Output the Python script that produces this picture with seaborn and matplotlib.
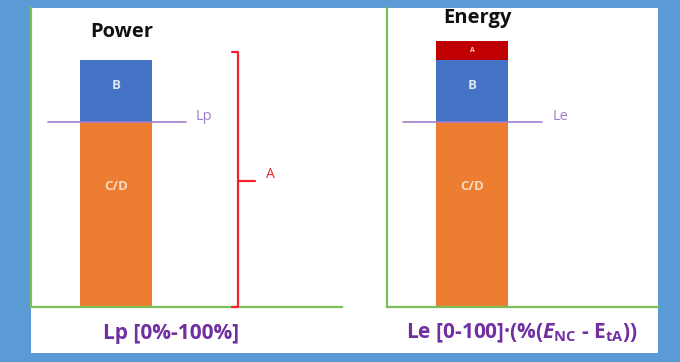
import matplotlib
matplotlib.use("Agg")
import matplotlib.pyplot as plt
from matplotlib.patches import Rectangle
import seaborn as sns
import pandas as pd

sns.set_style("white")
plt.rcParams["font.family"] = ["Open Sans", "DejaVu Sans"]
plt.rcParams["mathtext.fontset"] = "custom"
plt.rcParams["mathtext.rm"] = "Open Sans:bold"
plt.rcParams["mathtext.it"] = "Open Sans:bold:italic"
plt.rcParams["mathtext.bf"] = "Open Sans:bold"

# Stacked components (percent of the power limit)
segments = ["C/D", "B", "A"]
power_values = [75, 25, 0]
energy_values = [75, 25, 7.5]
limit_level = 75          # Lp / Le threshold
bracket_span = [0, 103]   # range covered by the "A" brace on the power chart

titles = ["Power", "Energy"]
limit_labels = ["Lp", "Le"]
bottom_labels = ["Lp [0%-100%]",
                 r"Le [0-100]·(%($\mathit{E}_{\mathbf{NC}}$ - E$_{\mathbf{tA}}$))"]

seg_colors = {"C/D": "#ED7D31", "B": "#4472C4", "A": "#C00000"}
seg_text = {"C/D": "#F8D9C2", "B": "#DCE4F4", "A": "#F6D0D0"}
green = "#7DBE58"
line_purple = "#A27FCB"
text_purple = "#7030A0"

fig = plt.figure(figsize=(6.8, 3.62), dpi=100)
fig.patch.set_facecolor("#5B9BD5")
W, H = 680, 362
fig.add_artist(Rectangle((31 / W, 1 - 353 / H), (658 - 31) / W, (353 - 8) / H,
                         transform=fig.transFigure, facecolor="white",
                         edgecolor="none", zorder=0))

ax_bottom = 1 - 307 / H
ax_height = (307 - 8) / H
ax_p = fig.add_axes([31 / W, ax_bottom, 311 / W, ax_height])
ax_e = fig.add_axes([387 / W, ax_bottom, 271 / W, ax_height])

def stacked_bar(ax, title, values):
    cum = []
    total = 0
    for v in values:
        total += v
        cum.append(total)
    # draw from the top of the stack downwards so lower parts overlay
    for seg, top, v in reversed(list(zip(segments, cum, values))):
        if v <= 0:
            continue
        df = pd.DataFrame({"chart": [title], "value": [top]})
        sns.barplot(data=df, x="chart", y="value", color=seg_colors[seg],
                    saturation=1, width=0.8, ax=ax, linewidth=0, zorder=2)
    lo = 0
    for seg, v in zip(segments, values):
        if v <= 0:
            continue
        if seg == "C/D":
            ypos = lo + v * 0.65
            fs = 9.5
        elif seg == "A":
            ypos = lo + v / 2
            fs = 5
        else:
            ypos = lo + v / 2 + 2
            fs = 9.5
        ax.text(0, ypos, seg, ha="center", va="center", color=seg_text[seg],
                fontsize=fs, fontweight="bold", zorder=3)
        lo += v

for ax, title, values, lab, xr, ty in [
        (ax_p, titles[0], power_values, limit_labels[0], 311, 111.3),
        (ax_e, titles[1], energy_values, limit_labels[1], 271, 117.0)]:
    stacked_bar(ax, title, values)
    ax.set_facecolor("none")
    ax.set_xlim(-85 / 90, (xr - 85) / 90)
    ax.set_ylim(0, 121)
    ax.set_xlabel("")
    ax.set_ylabel("")
    ax.set_xticks([])
    ax.set_yticks([])
    for s in ["top", "right"]:
        ax.spines[s].set_visible(False)
    for s in ["left", "bottom"]:
        ax.spines[s].set_color(green)
        ax.spines[s].set_linewidth(1.6)
    ax.text(0.065, ty, title, ha="center", va="center", fontsize=14.5,
            fontweight="bold", color="#111111")
    ax.text(0.98, limit_level + 2, lab, ha="center", va="center",
            fontsize=10.5, color=line_purple)

ax_p.plot([-0.756, 0.778], [limit_level, limit_level], color=line_purple,
          lw=1.2, zorder=4)
ax_e.plot([-0.767, 0.778], [limit_level, limit_level], color=line_purple,
          lw=1.2, zorder=4)

# brace marking range A on the power chart
bx, tip, mid_x = 1.356, 1.289, 1.544
y0, y1 = bracket_span
ymid = 51.0
ax_p.plot([tip, bx, bx, tip], [y1, y1, y0, y0], color="#F5222D", lw=1.6,
          clip_on=False, zorder=4, solid_joinstyle="round")
ax_p.plot([bx, mid_x], [ymid, ymid], color="#F5222D", lw=1.6, zorder=4)
ax_p.text(1.711, ymid + 2.5, "A", ha="center", va="center", fontsize=10,
          color="#F5222D")

fig.text(171 / W, 1 - 333 / H, bottom_labels[0], ha="center", va="center",
         fontsize=15, fontweight="bold", color=text_purple)
fig.text(522 / W, 1 - 333 / H, bottom_labels[1], ha="center", va="center",
         fontsize=15, fontweight="bold", color=text_purple)

fig.savefig("out.png", dpi=100, facecolor=fig.get_facecolor())
